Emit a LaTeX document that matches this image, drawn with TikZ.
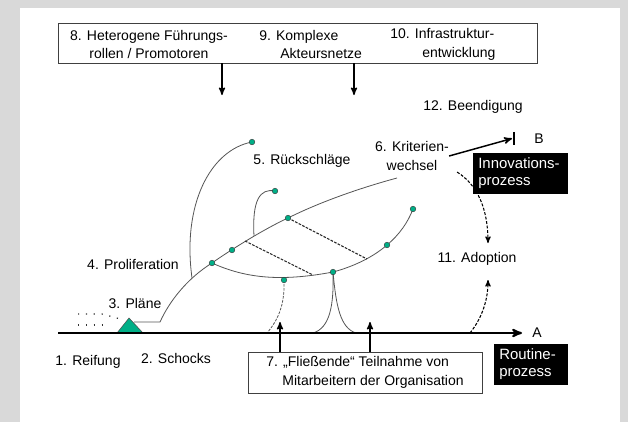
\documentclass[tikz,border=0pt]{standalone}
\usepackage{fontspec}
\setmainfont{Liberation Sans}
\usetikzlibrary{positioning, arrows}
\definecolor{dotgreen}{RGB}{0,175,135}
\definecolor{backgray}{RGB}{217,217,217}
\definecolor{curvegray}{RGB}{85,85,85}

\tikzset{
  spot/.style = {circle, draw=black!80, line width=0.3pt, fill=dotgreen, inner sep=0pt, minimum size=4.2pt},
  lbl/.style = {inner sep=0pt},
  frame/.style = {draw=black!75, line width=0.6pt, inner sep=0pt},
  blackbox/.style = {fill=black, text=white, align=left, inner xsep=4pt, inner ysep=0pt,
    minimum height=30.75pt, font=\fontsize{11.2}{12.8}\selectfont},
  branch/.style = {draw=curvegray, line width=0.6pt},
  rung/.style = {draw=black!85, line width=0.8pt, dash pattern=on 2pt off 1pt},
  flow/.style = {->, line width=0.8pt, dash pattern=on 2.2pt off 1.2pt},
  trail/.style = {draw=black!80, line width=0.9pt, dash pattern=on 0.9pt off 5pt}
}

\begin{document}
\begin{tikzpicture}[x=0.75pt, y=-0.75pt, >=stealth', font=\fontsize{10.5}{14}\selectfont]
            \fill[backgray] (0,0) rectangle (628,422);
            \fill[white] (20,8) rectangle (620,422);
            \useasboundingbox (0,0) rectangle (628,422);

            \node[frame, minimum width=359.25pt, minimum height=30pt] (factors) at (297.5,43) {};
            \node[lbl, align=center] (f8) at (149,44.5) {8. Heterogene Führungs-\\rollen / Promotoren};
            \node[lbl, align=left, anchor=west] (f9) at (259,44.5) {9. Komplexe\\\hspace*{15.75pt}Akteursnetze};
            \node[lbl, align=left, anchor=west] (f10) at (390,44.5) {10. Infrastruktur-\\\hspace*{24pt}entwicklung};

            \coordinate (t8) at (222,95);
            \coordinate (t9) at (354,95);
            \draw[->, line width=1pt] (t8 |- factors.south) -- (t8);
            \draw[->, line width=1pt] (t9 |- factors.south) -- (t9);

            \node[lbl] (stopnote) at (473,107) {12. Beendigung};
            \node[lbl, align=center] (crit) at (412,156) {6. Kriterien-\\wechsel};
            \node[lbl] (setback) at (302,161) {5. Rückschläge};
            \node[lbl] (prolif) at (133,264) {4. Proliferation};
            \node[lbl] (plans) at (135,303) {3. Pläne};
            \node[lbl] (adopt) at (477,259) {11. Adoption};
            \node[lbl] (ripe) at (88,362) {1. Reifung};
            \node[lbl] (shock) at (176,358) {2. Schocks};

            \coordinate (stop) at (514,138.5);
            \draw[line width=0.8pt] ([yshift=5pt]stop) -- ([yshift=-5pt]stop);
            \draw[->, line width=1.1pt] (crit.east) -- ([xshift=-1.5pt]stop);
            \node[lbl, right=15pt of stop] (bnode) {B};

            \coordinate (adtop) at (488,243);
            \coordinate (adbot) at (488,280);
            \coordinate (ax4) at (470,333);
            \draw[flow] ([shift={(6pt,-1pt)}]crit.south east) .. controls (478,185) and (488,210) .. (adtop);
            \draw[flow] (ax4) .. controls (482,318) and (488,300) .. (adbot);

            \node[blackbox, text width=63.25pt] (innov) at (520.5,173.5) {Innovations-\\prozess};

            \coordinate (tri) at (134,322);
            \coordinate (s0) at (160,322);
            \coordinate (b0) at (192,278);
            \coordinate (k1) at (245,241);
            \coordinate (j2) at (254,236);
            \coordinate (e6) at (397,178);
            \coordinate (q1) at (313,275);
            \coordinate (q2) at (367,259);
            \coordinate (ax1) at (313,333);
            \coordinate (ax2) at (356,333);
            \coordinate (ax3) at (267,333);
            \coordinate (p1) at (212,263);
            \coordinate (p2) at (232,250);
            \coordinate (p3) at (288,218);
            \coordinate (p4) at (333,272);
            \coordinate (p5) at (387,245);
            \coordinate (p6) at (413,209);
            \coordinate (p7) at (284,280);
            \coordinate (p8) at (252,142);
            \coordinate (p9) at (275,191);

            \draw[branch] (tri) -- (s0) .. controls (170,300) and (188,278) .. (p1)
              .. controls (226,253) and (262,230) .. (p3) .. controls (320,202) and (360,188) .. (e6);
            \draw[branch] (p1) .. controls (245,278) and (280,282) .. (p4)
              .. controls (352,267) and (372,258) .. (p5) .. controls (400,234) and (408,222) .. (p6);
            \draw[branch] (b0) .. controls (182,205) and (210,150) .. (p8);
            \draw[branch] (j2) .. controls (252,200) and (260,188) .. (p9);
            \draw[rung] (k1) -- (q1);
            \draw[rung] (p3) -- (q2);
            \draw[branch, dash pattern=on 2pt off 1pt] (p7) .. controls (285,305) and (278,320) .. (ax3);
            \draw[branch] (p4) .. controls (334,305) and (330,328) .. (ax1);
            \draw[branch] (p4) .. controls (336,305) and (340,328) .. (ax2);

            \foreach \i in {1,...,9}
              \node[spot] (d\i) at (p\i) {};

            \draw[trail] (78,314) -- (102,314) -- (124,320);
            \draw[trail] (78,325) -- (102,325);
            \draw[fill=dotgreen, draw=black!70, line width=0.4pt] (117,333) -- (129,318) -- (143,333) -- cycle;

            \coordinate (a0) at (58,333);
            \coordinate (a1) at (522,333);
            \draw[->, line width=1.5pt] (a0) -- (a1);
            \node[lbl, right=7.5pt of a1] (anode) {A};

            \node[frame, minimum width=175.5pt, minimum height=30.75pt, align=left] (staff) at (365,372.5)
              {7. „Fließende“ Teilnahme von\\\hspace*{12pt}Mitarbeitern der Organisation};
            \coordinate (u1) at (280,322);
            \coordinate (u2) at (370,322);
            \draw[->, line width=1pt] (u1 |- staff.north) -- (u1);
            \draw[->, line width=1pt] (u2 |- staff.north) -- (u2);

            \node[blackbox, text width=47.5pt] (routine) at (531,364.5) {Routine-\\prozess};
          \end{tikzpicture}
\end{document}
